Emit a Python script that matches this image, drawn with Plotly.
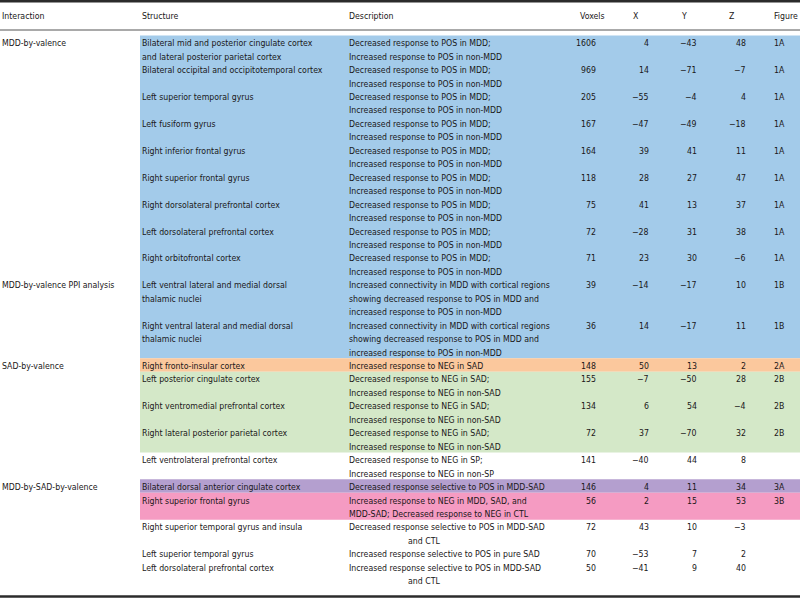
import plotly.graph_objects as go

M = "\u2212"
headers = ["Interaction", "Structure", "Description", "Voxels", "X", "Y", "Z", "Figure"]

interaction = ["MDD-by-valence", "", "", "", "", "", "", "", "",
               "MDD-by-valence PPI analysis", "",
               "SAD-by-valence", "", "", "", "",
               "MDD-by-SAD-by-valence", "", "", "", ""]

structure = [
    ["Bilateral mid and posterior cingulate cortex", "and lateral posterior parietal cortex"],
    ["Bilateral occipital and occipitotemporal cortex"],
    ["Left superior temporal gyrus"],
    ["Left fusiform gyrus"],
    ["Right inferior frontal gyrus"],
    ["Right superior frontal gyrus"],
    ["Right dorsolateral prefrontal cortex"],
    ["Left dorsolateral prefrontal cortex"],
    ["Right orbitofrontal cortex"],
    ["Left ventral lateral and medial dorsal", "thalamic nuclei"],
    ["Right ventral lateral and medial dorsal", "thalamic nuclei"],
    ["Right fronto-insular cortex"],
    ["Left posterior cingulate cortex"],
    ["Right ventromedial prefrontal cortex"],
    ["Right lateral posterior parietal cortex"],
    ["Left ventrolateral prefrontal cortex"],
    ["Bilateral dorsal anterior cingulate cortex"],
    ["Right superior frontal gyrus"],
    ["Right superior temporal gyrus and insula"],
    ["Left superior temporal gyrus"],
    ["Left dorsolateral prefrontal cortex"],
]

POS_MDD = ["Decreased response to POS in MDD;", "Increased response to POS in non-MDD"]
PPI = ["Increased connectivity in MDD with cortical regions",
       "showing decreased response to POS in MDD and",
       "increased response to POS in non-MDD"]
NEG_SAD = ["Decreased response to NEG in SAD;", "Increased response to NEG in non-SAD"]
IND = "\t"  # marks an indented continuation line
description = [POS_MDD] * 9 + [PPI] * 2 + [
    ["Increased response to NEG in SAD"],
    NEG_SAD, NEG_SAD, NEG_SAD,
    ["Decreased response to NEG in SP;", "Increased response to NEG in non-SP"],
    ["Decreased response selective to POS in MDD-SAD"],
    ["Increased response to NEG in MDD, SAD, and", "MDD-SAD; Decreased response to NEG in CTL"],
    ["Decreased response selective to POS in MDD-SAD", IND + "and CTL"],
    ["Increased response selective to POS in pure SAD"],
    ["Increased response selective to POS in MDD-SAD", IND + "and CTL"],
]

voxels = [1606, 969, 205, 167, 164, 118, 75, 72, 71, 39, 36, 148, 155, 134, 72, 141, 146, 56, 72, 70, 50]
xs = [4, 14, -55, -47, 39, 28, 41, -28, 23, -14, 14, 50, -7, 6, 37, -40, 4, 2, 43, -53, -41]
ys = [-43, -71, -4, -49, 41, 27, 13, 31, 30, -17, -17, 13, -50, 54, -70, 44, 11, 15, 10, 7, 9]
zs = [48, -7, 4, -18, 11, 47, 37, 38, -6, 10, 11, 2, 28, -4, 32, 8, 34, 53, -3, 2, 40]
figure = ["1A"] * 9 + ["1B"] * 2 + ["2A"] + ["2B"] * 3 + ["", "3A", "3B", "", "", ""]
group = ["blue"] * 11 + ["orange"] + ["green"] * 3 + [None, "purple", "pink", None, None, None]

colors = {"blue": "#a3cbea", "orange": "#fbc89d", "green": "#d4e8c8",
          "purple": "#b49fcf", "pink": "#f59bc2"}

FONT = "DejaVu Sans Condensed, sans-serif"
TXT = "#1a1718"
FS = 8.7
PITCH = 13.45
TOP = 35.5
TEXT_DY = 1.0

fig = go.Figure()
fig.add_trace(go.Scatter(x=[0, 800], y=[0, 598], mode="markers",
                         marker=dict(opacity=0), hoverinfo="skip", showlegend=False))

shapes = []
annotations = []


def fmt(v):
    return (M + str(-v)) if v < 0 else str(v)


def txt(x, y, s, anchor="left"):
    annotations.append(dict(x=x, y=y, xref="x", yref="y", text=s, showarrow=False,
                            xanchor=anchor, yanchor="middle",
                            font=dict(family=FONT, size=FS, color=TXT), borderpad=0))


# header
hx = [1, 141, 348, 579, 632, 680, 728, 773]
for x, h in zip(hx, headers):
    txt(x, 15.5, h)

line = 0
bands = []  # [group, top, bottom]
for i in range(len(structure)):
    n = max(len(structure[i]), len(description[i]))
    top = TOP + line * PITCH
    bot = TOP + (line + n) * PITCH
    if group[i]:
        if bands and bands[-1][0] == group[i] and abs(bands[-1][2] - top) < 0.01:
            bands[-1][2] = bot
        else:
            bands.append([group[i], top, bot])
    yc = top + PITCH / 2 + TEXT_DY
    if interaction[i]:
        txt(1, yc, interaction[i])
    for k, s in enumerate(structure[i]):
        txt(141, yc + k * PITCH, s)
    for k, s in enumerate(description[i]):
        if s.startswith(IND):
            txt(407, yc + k * PITCH, s[1:])
        else:
            txt(348, yc + k * PITCH, s)
    txt(597, yc, str(voxels[i]), "right")
    txt(650, yc, fmt(xs[i]), "right")
    txt(698, yc, fmt(ys[i]), "right")
    txt(747, yc, fmt(zs[i]), "right")
    if figure[i]:
        txt(773, yc, figure[i])
    line += n

for g, t, b in bands:
    shapes.append(dict(type="rect", xref="x", yref="y", x0=140, x1=800, y0=t, y1=b,
                       fillcolor=colors[g], line=dict(width=0), layer="below"))

# rules
shapes.append(dict(type="line", xref="x", yref="y", x0=0, x1=800, y0=1.2, y1=1.2,
                   line=dict(color="#2b2b2b", width=2.5)))
shapes.append(dict(type="line", xref="x", yref="y", x0=0, x1=800, y0=30, y1=30,
                   line=dict(color="#555555", width=1)))
shapes.append(dict(type="line", xref="x", yref="y", x0=0, x1=800, y0=596.5, y1=596.5,
                   line=dict(color="#2b2b2b", width=2.5)))

fig.update_layout(
    width=800, height=598, margin=dict(l=0, r=0, t=0, b=0),
    paper_bgcolor="white", plot_bgcolor="white",
    xaxis=dict(range=[0, 800], visible=False, fixedrange=True),
    yaxis=dict(range=[598, 0], visible=False, fixedrange=True),
    shapes=shapes, annotations=annotations, showlegend=False,
)
fig.write_html("out.html", config={"displayModeBar": False},
               post_script="document.body.style.margin='0';document.body.style.overflow='hidden';")
